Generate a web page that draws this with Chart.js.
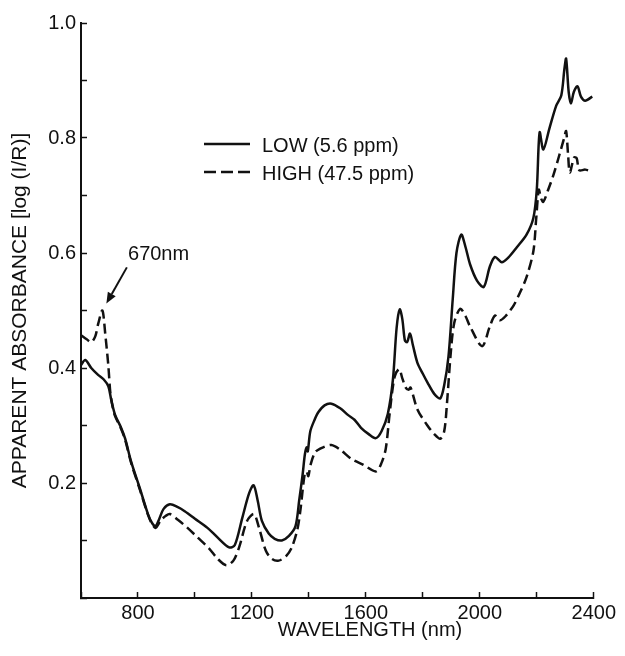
<!DOCTYPE html>
<html>
<head>
<meta charset="utf-8">
<script src="https://cdn.jsdelivr.net/npm/chart.js@4.4.1/dist/chart.umd.min.js"></script>
<style>
  html, body { margin: 0; padding: 0; background: #fff; }
  #wrap { width: 625px; height: 656px; }
</style>
</head>
<body>
<div id="wrap"><canvas id="c" width="625" height="656"></canvas></div>
<script>
// ---- data ----
const wavelengthLow = [600, 615, 636, 660, 680, 696, 706, 720, 740, 755, 776, 807, 835, 850, 862, 875, 890, 912, 940, 964, 1000, 1044, 1080, 1120, 1140, 1166, 1190, 1206, 1220, 1235, 1259, 1280, 1305, 1330, 1353, 1366, 1378, 1386, 1392, 1396, 1405, 1420, 1433, 1455, 1479, 1510, 1538, 1560, 1583, 1610, 1635, 1655, 1677, 1695, 1708, 1719, 1728, 1737, 1745, 1755, 1765, 1781, 1800, 1816, 1840, 1861, 1875, 1890, 1905, 1918, 1935, 1950, 1966, 1990, 2014, 2035, 2053, 2077, 2100, 2130, 2164, 2188, 2200, 2210, 2223, 2244, 2268, 2286, 2297, 2303, 2312, 2320, 2330, 2343, 2355, 2370, 2395];
const absorbLow = [0.405, 0.414, 0.400, 0.388, 0.380, 0.368, 0.345, 0.318, 0.297, 0.277, 0.237, 0.190, 0.146, 0.130, 0.125, 0.138, 0.155, 0.163, 0.158, 0.151, 0.138, 0.122, 0.105, 0.088, 0.092, 0.139, 0.182, 0.196, 0.170, 0.134, 0.112, 0.103, 0.100, 0.108, 0.125, 0.170, 0.215, 0.250, 0.262, 0.255, 0.290, 0.310, 0.323, 0.335, 0.338, 0.330, 0.318, 0.310, 0.296, 0.285, 0.278, 0.290, 0.320, 0.380, 0.470, 0.502, 0.485, 0.448, 0.445, 0.460, 0.440, 0.409, 0.390, 0.375, 0.355, 0.347, 0.370, 0.420, 0.520, 0.600, 0.632, 0.610, 0.580, 0.552, 0.541, 0.576, 0.593, 0.584, 0.592, 0.610, 0.632, 0.661, 0.710, 0.810, 0.780, 0.816, 0.856, 0.874, 0.920, 0.938, 0.880, 0.860, 0.880, 0.890, 0.872, 0.865, 0.872];

const wavelengthHigh = [600, 620, 636, 650, 661, 675, 685, 696, 703, 712, 720, 740, 755, 776, 807, 835, 850, 862, 880, 898, 912, 940, 974, 1010, 1050, 1080, 1110, 1135, 1155, 1183, 1207, 1225, 1249, 1270, 1294, 1320, 1340, 1360, 1371, 1385, 1392, 1398, 1406, 1423, 1450, 1479, 1510, 1549, 1590, 1635, 1655, 1670, 1684, 1701, 1717, 1728, 1740, 1750, 1757, 1781, 1816, 1840, 1861, 1875, 1885, 1897, 1910, 1931, 1950, 1966, 2008, 2035, 2053, 2070, 2090, 2119, 2140, 2164, 2188, 2198, 2207, 2215, 2223, 2240, 2258, 2279, 2296, 2303, 2310, 2316, 2331, 2340, 2349, 2370, 2391];
const absorbHigh = [0.457, 0.450, 0.445, 0.455, 0.478, 0.500, 0.460, 0.404, 0.357, 0.330, 0.316, 0.295, 0.275, 0.235, 0.188, 0.145, 0.128, 0.122, 0.135, 0.143, 0.146, 0.136, 0.122, 0.105, 0.086, 0.068, 0.057, 0.065, 0.088, 0.134, 0.146, 0.122, 0.082, 0.068, 0.065, 0.073, 0.088, 0.120, 0.156, 0.215, 0.220, 0.212, 0.232, 0.254, 0.262, 0.266, 0.258, 0.242, 0.232, 0.220, 0.235, 0.260, 0.323, 0.385, 0.398, 0.382, 0.366, 0.362, 0.366, 0.328, 0.300, 0.285, 0.277, 0.290, 0.340, 0.420, 0.478, 0.503, 0.490, 0.472, 0.438, 0.472, 0.491, 0.483, 0.490, 0.509, 0.530, 0.558, 0.603, 0.660, 0.710, 0.695, 0.689, 0.710, 0.735, 0.770, 0.800, 0.812, 0.770, 0.740, 0.766, 0.765, 0.744, 0.745, 0.742];

const seriesLabels = ['LOW (5.6 ppm)', 'HIGH (47.5 ppm)'];
const xTickLabels = [800, 1200, 1600, 2000, 2400];
const yTickLabels = ['0.2', '0.4', '0.6', '0.8', '1.0'];
const xTitle = 'WAVELENGTH (nm)';
const yTitle = 'APPARENT ABSORBANCE [log (I/R)]';
const noteText = '670nm';
const noteTextAt = [765, 0.598];     // data coords of the note text (left, middle)
const noteArrowFrom = [761, 0.575];  // arrow tail (data coords)
const noteArrowTo = [689, 0.512];    // arrow tip (data coords)

// ---- chart ----
const INK = '#111111';
Chart.defaults.font.family = '"Liberation Sans", Arial, Helvetica, sans-serif';
Chart.defaults.color = INK;

const zip = (xs, ys) => xs.map((x, i) => ({ x: x, y: ys[i] }));

const overlayPlugin = {
  id: 'overlay',
  afterDatasetsDraw(chart) {
    const ctx = chart.ctx;
    const xs = chart.scales.x, ys = chart.scales.y;
    ctx.save();
    ctx.fillStyle = INK;
    ctx.strokeStyle = INK;
    ctx.font = '20px "Liberation Sans", Arial, sans-serif';
    ctx.textBaseline = 'middle';

    // legend
    const lx0 = 204, lx1 = 250, tx = 262;
    const rows = [144, 172];
    chart.data.datasets.forEach((ds, i) => {
      const y = rows[i];
      ctx.beginPath();
      ctx.lineWidth = 2.5;
      ctx.setLineDash(ds.borderDash ? [12, 5] : []);
      ctx.moveTo(lx0, y);
      ctx.lineTo(lx1, y);
      ctx.stroke();
      ctx.setLineDash([]);
      ctx.textAlign = 'left';
      ctx.fillText(ds.label, tx, y + 2);
    });

    // x-axis title
    ctx.textAlign = 'center';
    ctx.fillText(xTitle, 370, 630);

    // note text + arrow
    ctx.textAlign = 'left';
    ctx.fillText(noteText, xs.getPixelForValue(noteTextAt[0]), ys.getPixelForValue(noteTextAt[1]));
    const ax0 = xs.getPixelForValue(noteArrowFrom[0]), ay0 = ys.getPixelForValue(noteArrowFrom[1]);
    const ax1 = xs.getPixelForValue(noteArrowTo[0]), ay1 = ys.getPixelForValue(noteArrowTo[1]);
    const ang = Math.atan2(ay1 - ay0, ax1 - ax0);
    const head = 11, hw = 4.5;
    const bx = ax1 - head * Math.cos(ang), by = ay1 - head * Math.sin(ang);
    ctx.beginPath();
    ctx.lineWidth = 2;
    ctx.moveTo(ax0, ay0);
    ctx.lineTo(bx, by);
    ctx.stroke();
    ctx.beginPath();
    ctx.moveTo(ax1, ay1);
    ctx.lineTo(bx + hw * Math.sin(ang), by - hw * Math.cos(ang));
    ctx.lineTo(bx - hw * Math.sin(ang), by + hw * Math.cos(ang));
    ctx.closePath();
    ctx.fill();
    ctx.restore();
  }
};

new Chart(document.getElementById('c'), {
  type: 'line',
  data: {
    datasets: [
      {
        label: seriesLabels[0],
        data: zip(wavelengthLow, absorbLow),
        borderColor: INK,
        borderWidth: 2.5,
        pointRadius: 0,
        tension: 0.3,
        fill: false
      },
      {
        label: seriesLabels[1],
        data: zip(wavelengthHigh, absorbHigh),
        borderColor: INK,
        borderWidth: 2.5,
        borderDash: [10, 5],
        pointRadius: 0,
        tension: 0.3,
        fill: false
      }
    ]
  },
  options: {
    responsive: false,
    animation: false,
    devicePixelRatio: 1,
    layout: { padding: { left: 0, right: 28, top: 16, bottom: 0 } },
    plugins: {
      legend: { display: false },
      tooltip: { enabled: false }
    },
    scales: {
      x: {
        type: 'linear',
        min: 600,
        max: 2400,
        ticks: {
          stepSize: 200,
          autoSkip: false,
          maxRotation: 0,
          padding: 9,
          color: INK,
          font: { size: 20 },
          callback: (v) => xTickLabels.includes(Math.round(v)) ? String(Math.round(v)) : ''
        },
        grid: { drawOnChartArea: false, tickLength: -6, tickWidth: 1.5, tickColor: INK },
        border: { display: true, color: INK, width: 2 },
        afterFit: (s) => { s.height = 58; }
      },
      y: {
        type: 'linear',
        min: 0,
        max: 1.0,
        ticks: {
          stepSize: 0.1,
          autoSkip: false,
          padding: 11,
          color: INK,
          font: { size: 20 },
          callback: (v) => {
            const s = Number(v).toFixed(1);
            return yTickLabels.includes(s) ? s : '';
          }
        },
        grid: { drawOnChartArea: false, tickLength: -6, tickWidth: 1.5, tickColor: INK },
        border: { display: true, color: INK, width: 2 },
        title: {
          display: true,
          text: yTitle,
          color: INK,
          font: { size: 21 },
          padding: { top: 8, bottom: 0 }
        },
        afterFit: (s) => { s.width = 81; }
      }
    }
  },
  plugins: [overlayPlugin]
});
</script>
</body>
</html>
